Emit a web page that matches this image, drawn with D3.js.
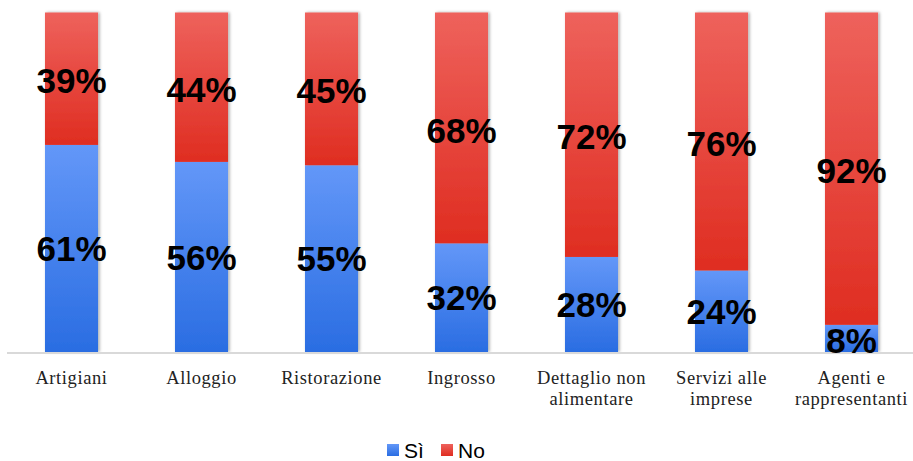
<!DOCTYPE html>
<html>
<head>
<meta charset="utf-8">
<script src="https://cdn.jsdelivr.net/npm/d3@7"></script>
<style>
  body { margin: 0; background: #fff; }
  svg { display: block; }
</style>
</head>
<body>
<script>
//////////////   Data   //////////////

var categories = ["Artigiani", "Alloggio", "Ristorazione", "Ingrosso",
                  "Dettaglio non alimentare", "Servizi alle imprese", "Agenti e rappresentanti"];
var catLines = [["Artigiani"], ["Alloggio"], ["Ristorazione"], ["Ingrosso"],
                ["Dettaglio non", "alimentare"], ["Servizi alle", "imprese"], ["Agenti e", "rappresentanti"]];
var si = [61, 56, 55, 32, 28, 24, 8];
var no = [39, 44, 45, 68, 72, 76, 92];
var seriesNames = ["Sì", "No"];

//////////////   Layout   //////////////

var width = 913, height = 461,
    plotLeft = 6.5, plotRight = 916.5,
    plotTop = 12.5, plotBottom = 352;

var svg = d3.select("body").append("svg")
    .attr("width", width).attr("height", height);

var defs = svg.append("defs");

function gradient(id, c1, c2) {
  var g = defs.append("linearGradient").attr("id", id)
      .attr("x1", 0).attr("y1", 0).attr("x2", 0).attr("y2", 1);
  g.append("stop").attr("offset", "0%").attr("stop-color", c1);
  g.append("stop").attr("offset", "100%").attr("stop-color", c2);
}
gradient("gBlue", "#6397f8", "#2a6de2");
gradient("gRed", "#ee625c", "#df2d21");

var shadow = defs.append("filter").attr("id", "shadow")
    .attr("x", "-30%").attr("y", "-5%").attr("width", "160%").attr("height", "110%");
shadow.append("feDropShadow").attr("dx", 1.5).attr("dy", 0).attr("stdDeviation", 1.8)
    .attr("flood-color", "#000").attr("flood-opacity", 0.35);

var x = d3.scaleBand().domain(categories).range([plotLeft, plotRight]).paddingInner(0.592).paddingOuter(0.296);
var y = d3.scaleLinear().domain([0, 100]).range([plotBottom, plotTop]);

var data = categories.map(function (c, i) { return { cat: c, si: si[i], no: no[i], lines: catLines[i] }; });

// bars
var bars = svg.selectAll(".bar").data(data).enter().append("g")
    .attr("class", "bar").attr("filter", "url(#shadow)");

bars.append("rect")
    .attr("x", function (d) { return x(d.cat); })
    .attr("y", function (d) { return y(d.si); })
    .attr("width", x.bandwidth())
    .attr("height", function (d) { return y(0) - y(d.si); })
    .attr("fill", "url(#gBlue)");

bars.append("rect")
    .attr("x", function (d) { return x(d.cat); })
    .attr("y", function (d) { return y(d.si + d.no); })
    .attr("width", x.bandwidth())
    .attr("height", function (d) { return y(d.si) - y(d.si + d.no); })
    .attr("fill", "url(#gRed)");

// axis line
svg.append("line")
    .attr("x1", 7).attr("x2", 913)
    .attr("y1", plotBottom + 1).attr("y2", plotBottom + 1)
    .attr("stroke", "#d9d9d9").attr("stroke-width", 2);

// value labels
var lbl = svg.append("g")
    .attr("font-family", "Liberation Sans, Arial, sans-serif")
    .attr("font-weight", "bold").attr("font-size", 35)
    .attr("text-anchor", "middle").attr("fill", "#000");

data.forEach(function (d) {
  var cx = x(d.cat) + x.bandwidth() / 2;
  var siMid = d.si < 12 ? y(d.si / 2) + 2 : (y(0) + y(d.si)) / 2;
  lbl.append("text").attr("x", cx).attr("y", siMid).attr("dy", "0.36em").text(d.si + "%");
  lbl.append("text").attr("x", cx).attr("y", (y(d.si) + y(100)) / 2 + 2).attr("dy", "0.36em").text(d.no + "%");
});

// category labels
var cl = svg.append("g")
    .attr("font-family", "Liberation Serif, Times New Roman, serif")
    .attr("font-size", 18.5).attr("letter-spacing", 0.6)
    .attr("text-anchor", "middle").attr("fill", "#222");

data.forEach(function (d) {
  var t = cl.append("text").attr("x", x(d.cat) + x.bandwidth() / 2).attr("y", 384);
  d.lines.forEach(function (s, j) {
    t.append("tspan").attr("x", x(d.cat) + x.bandwidth() / 2).attr("dy", j ? 21 : 0).text(s);
  });
});

// legend
var legend = svg.append("g").attr("font-family", "Liberation Sans, Arial, sans-serif").attr("font-size", 21);
var legX = [387, 441], legFill = ["url(#gBlue)", "url(#gRed)"];
seriesNames.forEach(function (n, i) {
  legend.append("rect").attr("x", legX[i]).attr("y", 444).attr("width", 12).attr("height", 12).attr("fill", legFill[i]);
  legend.append("text").attr("x", legX[i] + 17).attr("y", 458).attr("fill", "#000").text(n);
});
</script>
</body>
</html>
